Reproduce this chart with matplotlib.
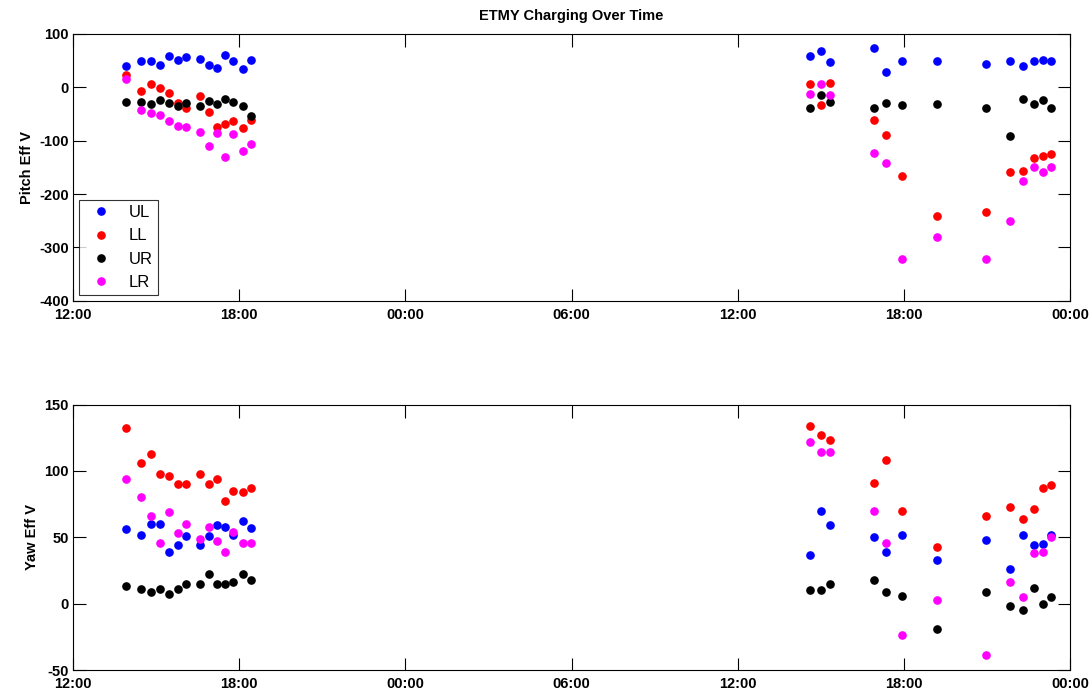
import matplotlib
matplotlib.use("Agg")
import matplotlib.pyplot as plt
import matplotlib.dates as mdates
import pandas as pd

plt.rcParams['font.family'] = ['Liberation Sans', 'DejaVu Sans']
plt.rcParams['axes.unicode_minus'] = False

times = ["2015-01-01 13:55", "2015-01-01 14:28", "2015-01-01 14:50", "2015-01-01 15:08",
         "2015-01-01 15:27", "2015-01-01 15:48", "2015-01-01 16:05", "2015-01-01 16:35",
         "2015-01-01 16:55", "2015-01-01 17:11", "2015-01-01 17:30", "2015-01-01 17:47",
         "2015-01-01 18:08", "2015-01-01 18:26",
         "2015-01-02 14:37", "2015-01-02 15:01", "2015-01-02 15:20", "2015-01-02 16:56",
         "2015-01-02 17:22", "2015-01-02 17:56", "2015-01-02 19:11", "2015-01-02 20:58",
         "2015-01-02 21:49", "2015-01-02 22:19", "2015-01-02 22:43", "2015-01-02 23:01",
         "2015-01-02 23:19"]

pitch_UL = [40, 49, 49, 42, 59, 52, 57, 53, 42, 36, 60, 49, 34, 51,
            59, 68, 47, 73, 29, 49, 49, 44, 49, 40, 49, 51, 49]
pitch_LL = [24, -6, 7, -2, -11, -29, -39, -16, -46, -74, -68, -64, -76, -61,
            6, -34, 9, -61, -90, -167, -242, -234, -159, -156, -132, -128, -125]
pitch_UR = [-27, -27, -31, -24, -29, -35, -29, -35, -26, -32, -22, -28, -35, -53,
            -39, -15, -28, -39, -29, -34, -32, -39, -92, -21, -32, -24, -39]
pitch_LR = [16, -43, -48, -52, -64, -72, -74, -84, -110, -85, -131, -87, -119, -106,
            -13, 6, -15, -123, -141, -322, -281, -321, -251, -176, -150, -158, -149]

yaw_UL = [56, 52, 60, 60, 39, 44, 51, 44, 51, 59, 58, 52, 62, 57,
          37, 70, 59, 50, 39, 52, 33, 48, 26, 52, 44, 45, 52]
yaw_LL = [132, 106, 113, 98, 96, 90, 90, 98, 90, 94, 77, 85, 84, 87,
          134, 127, 123, 91, 108, 70, 43, 66, 73, 64, 71, 87, 89]
yaw_UR = [13, 11, 9, 11, 7, 11, 15, 15, 22, 15, 15, 16, 22, 18,
          10, 10, 15, 18, 9, 6, -19, 9, -2, -5, 12, 0, 5]
yaw_LR = [94, 80, 66, 46, 69, 53, 60, 49, 58, 47, 39, 54, 46, 46,
          122, 114, 114, 70, 46, -24, 3, -39, 16, 5, 38, 39, 50]

labels = ["UL", "LL", "UR", "LR"]
colors = ["#0000ff", "#ff0000", "#000000", "#ff00ff"]

t = pd.to_datetime(times)

fig = plt.figure(figsize=(10.9, 6.93), dpi=100)
W, H = 1090, 693
ax1 = fig.add_axes([73 / W, 1 - 300.7 / H, (1070 - 73) / W, (300.7 - 34) / H])
ax2 = fig.add_axes([73 / W, 1 - 670 / H, (1070 - 73) / W, (670 - 404.5) / H])

xmin = pd.Timestamp("2015-01-01 12:00")
xmax = pd.Timestamp("2015-01-03 00:00")

for ax, series, ylim, yticks, ylabel in [
    (ax1, [pitch_UL, pitch_LL, pitch_UR, pitch_LR], (-400, 100), range(-400, 101, 100), "Pitch Eff V"),
    (ax2, [yaw_UL, yaw_LL, yaw_UR, yaw_LR], (-50, 150), range(-50, 151, 50), "Yaw Eff V"),
]:
    for s, c, lab in zip(series, colors, labels):
        ax.plot(t, s, linestyle='none', marker='o', markersize=5.2, color=c,
                markeredgecolor=c, label=lab)
    ax.set_xlim(xmin, xmax)
    ax.set_ylim(*ylim)
    ax.set_yticks(list(yticks))
    ax.xaxis.set_major_locator(mdates.HourLocator(byhour=[0, 6, 12, 18]))
    ax.xaxis.set_major_formatter(mdates.DateFormatter("%H:%M"))
    ax.tick_params(direction='in', length=9, width=0.8, top=True, right=True,
                   labelsize=10.5, pad=3)
    ax.tick_params(axis='x', pad=5)
    for lbl in ax.get_xticklabels() + ax.get_yticklabels():
        lbl.set_fontweight('bold')
    ax.set_ylabel(ylabel, fontsize=10.5, fontweight='bold', labelpad=4)
    for sp in ax.spines.values():
        sp.set_linewidth(0.8)

ax1.set_title("ETMY Charging Over Time", fontsize=10.5, fontweight='bold', pad=10)

leg = ax1.legend(loc='lower left', frameon=True, fancybox=False, edgecolor='black',
                 fontsize=12, handletextpad=0.7, borderpad=0.3, labelspacing=0.5,
                 handlelength=2.0, borderaxespad=0, bbox_to_anchor=(0.006, 0.021))
leg.get_frame().set_linewidth(0.8)

fig.savefig("out.png", dpi=100)
